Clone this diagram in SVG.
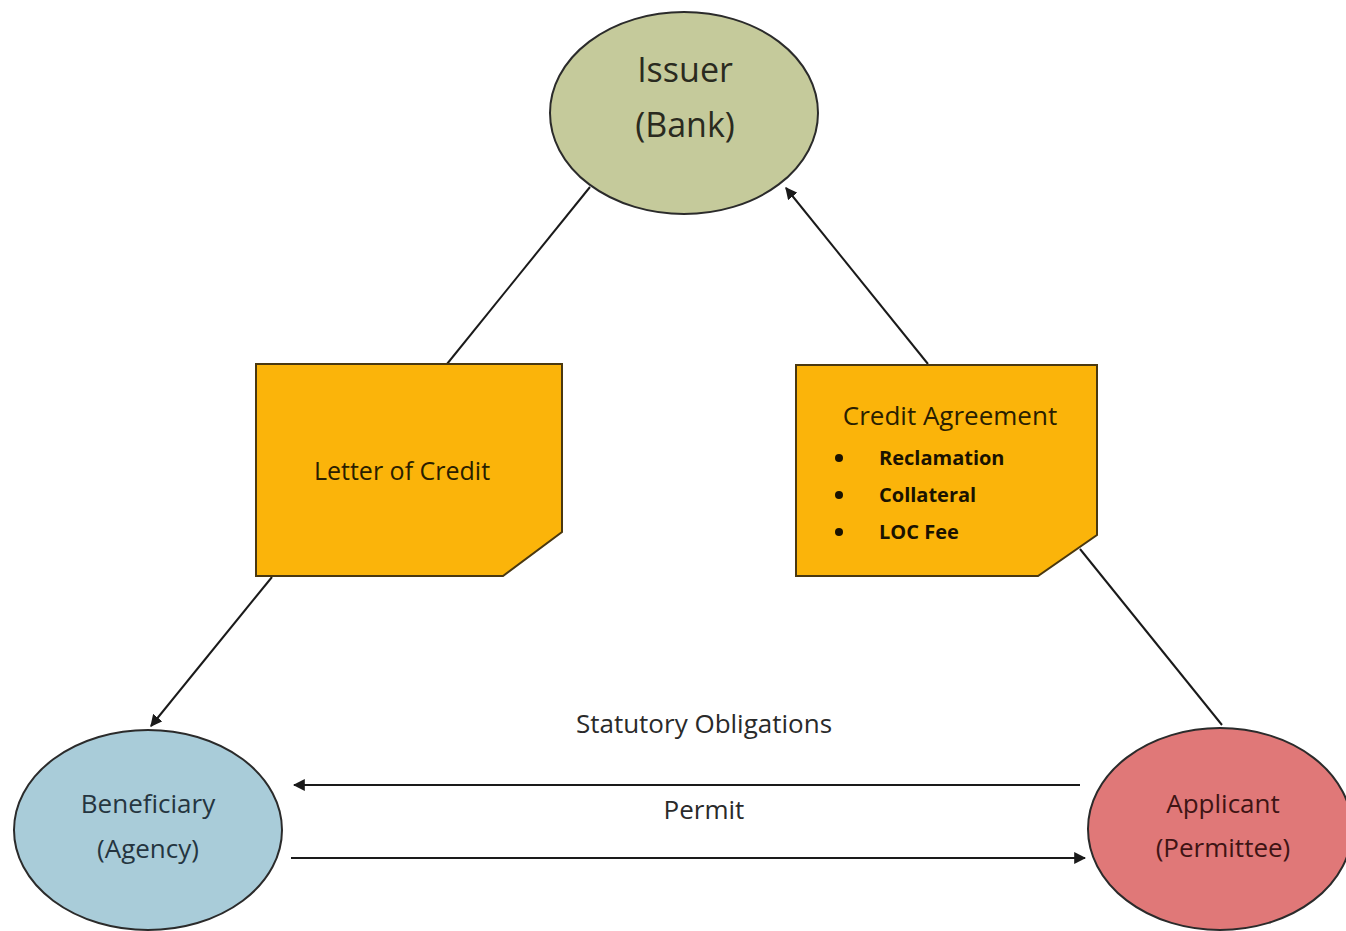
<svg xmlns="http://www.w3.org/2000/svg" width="1346" height="931" viewBox="0 0 1346 931">
<style>
.bg{fill:#ffffff}
.ell{stroke:#2b2b2b;stroke-width:2}
.box{fill:#fbb40a;stroke:#4a3810;stroke-width:2}
.lbl{font-family:"Open Sans","Liberation Sans",sans-serif;text-anchor:middle}
.conn{stroke:#1a1a1a;stroke-width:2;fill:none}
.bold{font-family:"Open Sans","Liberation Sans",sans-serif;font-weight:bold;font-size:20px;fill:#1a1200}
</style>
<defs>
<marker id="ah" viewBox="0 0 10 10" refX="9" refY="5" markerWidth="6" markerHeight="6" orient="auto" markerUnits="strokeWidth">
<path d="M0,0 L10,5 L0,10 z" fill="#1a1a1a"/>
</marker>
</defs>
<rect class="bg" x="0" y="0" width="1346" height="931"/>
<g id="connectors">
<line class="conn" x1="590" y1="187" x2="447" y2="364"/>
<line class="conn" x1="272" y1="577" x2="151" y2="726" marker-end="url(#ah)"/>
<line class="conn" x1="928" y1="364" x2="786" y2="188" marker-end="url(#ah)"/>
<line class="conn" x1="1080" y1="549" x2="1222" y2="725"/>
<line class="conn" x1="1080" y1="785" x2="294" y2="785" marker-end="url(#ah)"/>
<line class="conn" x1="291" y1="858" x2="1085" y2="858" marker-end="url(#ah)"/>
<text class="lbl" x="704" y="733" font-size="26" fill="#2a2a2a">Statutory Obligations</text>
<text class="lbl" x="704" y="819" font-size="26" fill="#2a2a2a">Permit</text>
</g>
<g id="issuer">
<ellipse class="ell" cx="684" cy="113" rx="134" ry="101" fill="#c5ca9b"/>
<text class="lbl" x="685" y="82" font-size="34" fill="#2a2a20">Issuer</text>
<text class="lbl" x="685" y="137" font-size="34" fill="#2a2a20">(Bank)</text>
</g>
<g id="letter-of-credit">
<path class="box" d="M256,364 L562,364 L562,532 L503,576 L256,576 Z"/>
<text class="lbl" x="402" y="480" font-size="25" fill="#2a1e00">Letter of Credit</text>
</g>
<g id="credit-agreement">
<path class="box" d="M796,365 L1097,365 L1097,535 L1038,576 L796,576 Z"/>
<text class="lbl" x="950" y="425" font-size="26" fill="#2a1e00">Credit Agreement</text>
<circle cx="839" cy="458" r="4" fill="#1a1200"/>
<circle cx="839" cy="495" r="4" fill="#1a1200"/>
<circle cx="839" cy="532" r="4" fill="#1a1200"/>
<text class="bold" x="879" y="465">Reclamation</text>
<text class="bold" x="879" y="502">Collateral</text>
<text class="bold" x="879" y="539">LOC Fee</text>
</g>
<g id="beneficiary">
<ellipse class="ell" cx="148" cy="830" rx="134" ry="100" fill="#a9ccd9"/>
<text class="lbl" x="148" y="813" font-size="26" fill="#253540">Beneficiary</text>
<text class="lbl" x="148" y="858" font-size="26" fill="#253540">(Agency)</text>
</g>
<g id="applicant">
<ellipse class="ell" cx="1220" cy="829" rx="132" ry="101" fill="#e07878"/>
<text class="lbl" x="1223" y="813" font-size="26" fill="#3e1414">Applicant</text>
<text class="lbl" x="1223" y="857" font-size="26" fill="#3e1414">(Permittee)</text>
</g>
</svg>
